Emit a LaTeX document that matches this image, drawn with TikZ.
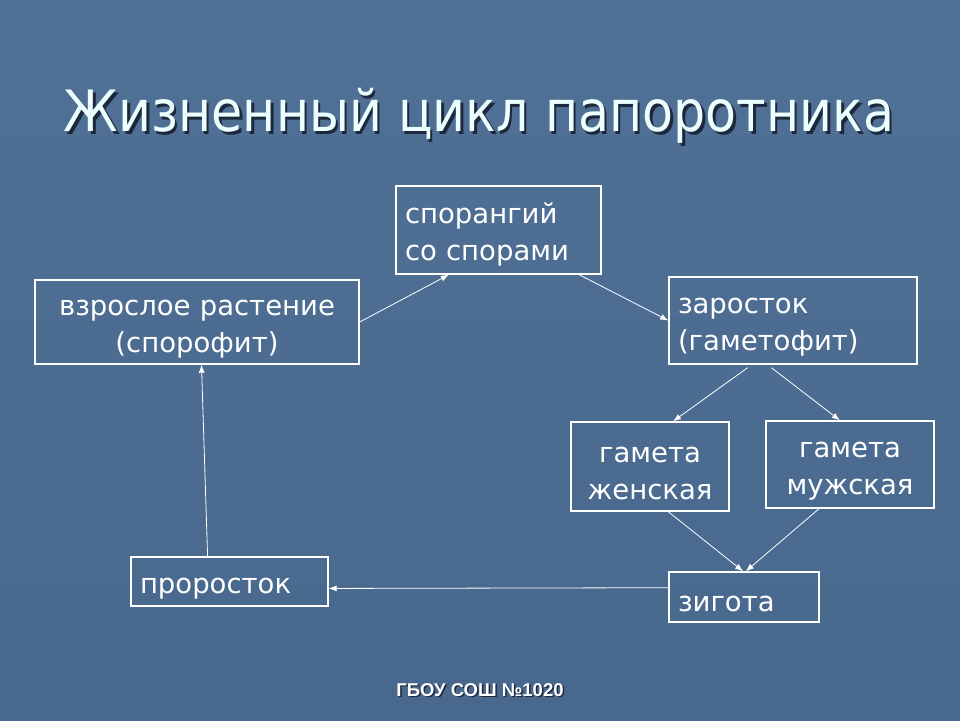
\documentclass[tikz,border=0pt]{standalone}
\usepackage{fontspec}
\setmainfont{DejaVu Sans}
\newfontfamily\titlefont[FakeStretch=0.89]{DejaVu Sans}
\newfontfamily\boxfont{DejaVu Sans}
\newfontfamily\footfont{Liberation Sans}
\usetikzlibrary{arrows,arrows.meta,positioning}
\definecolor{slidetop}{RGB}{80,112,150}
\definecolor{slidebot}{RGB}{72,104,142}
\definecolor{titlecol}{RGB}{236,255,255}
\definecolor{shadowcol}{RGB}{30,40,60}
\tikzset{
  box/.style={draw=white, line width=1.4pt, text=white, inner ysep=0pt,
    font=\boxfont\fontsize{27.5}{37}\selectfont,
    execute at begin node={\rule{0pt}{29pt}}},
  lbox/.style={box, align=left, inner xsep=9pt},
  cbox/.style={box, align=center, inner xsep=0pt},
  arr/.style={draw=white, line width=0.8pt, -{Latex[length=8pt,width=6pt]}}
}

\begin{document}
\begin{tikzpicture}[x=1pt, y=-1pt]
      %background
      \fill[top color=slidetop, bottom color=slidebot] (0,0) rectangle (960,720);
      %title
      \node[text=shadowcol, font=\titlefont\fontsize{57}{60}\selectfont] (titleshadow) at (481.5,118.5) {Жизненный цикл папоротника};
      \node[text=titlecol, font=\titlefont\fontsize{57}{60}\selectfont] (title) at (479,116) {Жизненный цикл папоротника};
      %nodes
      \node[lbox, text width=187pt, minimum height=88pt] (spor) at (498.5,230) {спорангий\\со спорами};
      \node[cbox, text width=324pt, minimum height=84pt] (adult) at (197,322) {взрослое растение\\(спорофит)};
      \node[lbox, text width=230pt, minimum height=87pt] (gam) at (793,320.5) {заросток\\(гаметофит)};
      \node[cbox, text width=158pt, minimum height=89pt] (female) at (650,466.5) {гамета\\женская};
      \node[cbox, text width=168pt, minimum height=87pt] (male) at (850,464.5) {гамета\\мужская};
      \node[lbox, text width=132pt, minimum height=50pt] (zyg) at (744,597) {зигота};
      \node[lbox, text width=179pt, minimum height=49pt] (sprout) at (229.5,581.5) {проросток};
      %footer
      \node[text=shadowcol, font=\footfont\bfseries\fontsize{18.5}{20}\selectfont] (footshadow) at (481.5,691.5) {ГБОУ СОШ №1020};
      \node[text=white, font=\footfont\bfseries\fontsize{18.5}{20}\selectfont] (foot) at (480,690) {ГБОУ СОШ №1020};
      %edges
      \path [arr] (adult.east) to (spor.222);
      \path [arr] (spor.331) to (gam.west);
      \path [arr, shorten <=5pt] (gam.227) to (female.63);
      \path [arr, shorten <=5pt] (gam.240) to (male.103);
      \path [arr] (female.292) to (zyg.92);
      \path [arr] (male.235) to (zyg.86);
      \path [arr] (zyg.173) to (sprout.356);
      \path [arr] (sprout.131) to (adult.276);
\end{tikzpicture}
\end{document}
